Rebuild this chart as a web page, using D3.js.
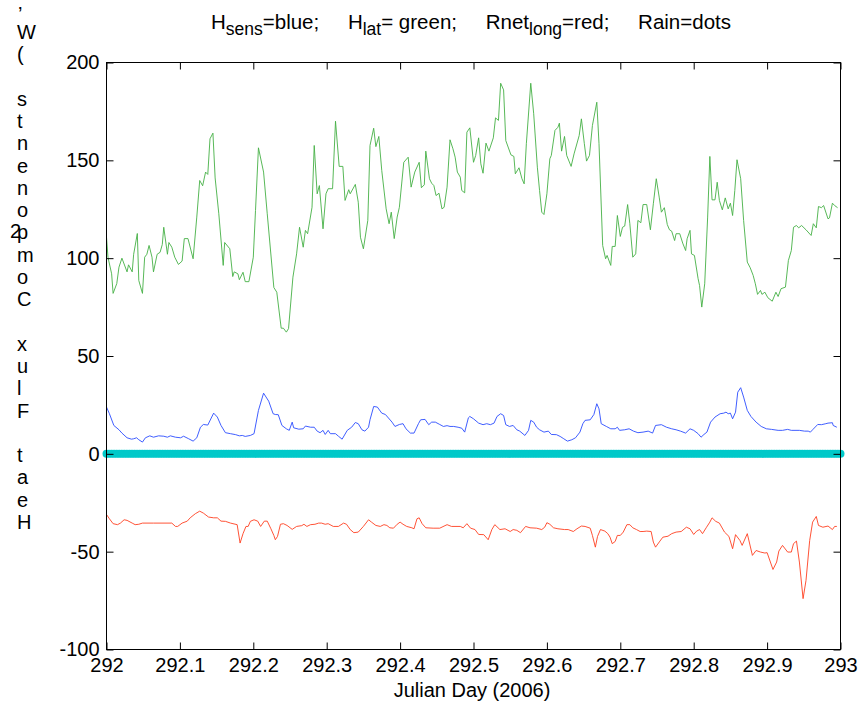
<!DOCTYPE html>
<html><head><meta charset="utf-8">
<script src="https://cdn.jsdelivr.net/npm/d3@7"></script>
<style>html,body{margin:0;padding:0;background:#fff}svg{display:block}text{font-family:"Liberation Sans",Arial,Helvetica,sans-serif;fill:#000}</style>
</head><body><svg id="chart" width="863" height="711"></svg>
<script>
// ---------- data ----------
const xTicks = [292,292.1,292.2,292.3,292.4,292.5,292.6,292.7,292.8,292.9,293];
const xTickLabels = ["292","292.1","292.2","292.3","292.4","292.5","292.6","292.7","292.8","292.9","293"];
const yTicks = [-100,-50,0,50,100,150,200];
const yTickLabels = ["-100","-50","0","50","100","150","200"];

// Hlat (green)
const hlatDay = [292.000,292.002,292.007,292.009,292.014,292.017,292.021,292.028,292.030,292.035,292.037,292.042,292.044,292.049,292.052,292.055,292.058,292.062,292.064,292.069,292.073,292.076,292.078,292.083,292.085,292.089,292.093,292.098,292.103,292.106,292.111,292.118,292.123,292.127,292.131,292.135,292.138,292.141,292.145,292.148,292.153,292.159,292.161,292.168,292.172,292.174,292.179,292.181,292.186,292.189,292.194,292.200,292.203,292.207,292.214,292.219,292.228,292.232,292.238,292.241,292.245,292.248,292.254,292.259,292.263,292.268,292.271,292.274,292.280,292.283,292.287,292.290,292.295,292.299,292.302,292.308,292.312,292.317,292.322,292.325,292.330,292.332,292.339,292.343,292.346,292.350,292.356,292.359,292.364,292.367,292.371,292.375,292.381,292.385,292.388,292.392,292.396,292.399,292.405,292.411,292.415,292.420,292.426,292.429,292.433,292.435,292.440,292.443,292.446,292.449,292.453,292.457,292.460,292.464,292.468,292.472,292.475,292.478,292.482,292.484,292.488,292.491,292.495,292.500,292.503,292.507,292.510,292.513,292.517,292.521,292.527,292.530,292.534,292.537,292.541,292.544,292.551,292.555,292.557,292.562,292.566,292.569,292.572,292.578,292.582,292.587,292.590,292.593,292.596,292.600,292.604,292.606,292.611,292.615,292.617,292.620,292.624,292.627,292.633,292.637,292.644,292.647,292.651,292.654,292.658,292.662,292.668,292.671,292.676,292.680,292.682,292.687,292.689,292.693,292.696,292.700,292.703,292.706,292.710,292.713,292.717,292.721,292.724,292.728,292.731,292.736,292.741,292.745,292.749,292.753,292.756,292.760,292.764,292.767,292.770,292.774,292.776,292.781,292.785,292.789,292.791,292.795,292.797,292.801,292.806,292.808,292.811,292.815,292.819,292.822,292.825,292.829,292.832,292.835,292.839,292.843,292.847,292.850,292.853,292.856,292.859,292.864,292.868,292.873,292.877,292.881,292.884,292.887,292.891,292.893,292.897,292.901,292.907,292.912,292.915,292.919,292.925,292.929,292.933,292.936,292.940,292.943,292.947,292.953,292.960,292.963,292.967,292.970,292.974,292.977,292.983,292.985,292.989,292.992,292.996];
const hlatVal = [110.7,100.5,92,82,87,95.4,100,93,96.6,93,102,112.6,88.6,82,100.5,102,106.5,100.5,93,102,103,107,115.8,102,108,105.6,100.5,96.8,98.5,110,110,99.7,121,139.7,137,144,142.8,161,163.9,141,122.7,96.3,108,104.8,90.6,93,92,89,92.8,88,88,100.5,124.4,156.4,144,122.7,85,82.6,64.2,64.2,62.2,64,90.3,102.2,115.8,105.6,114.2,112.5,126,157.6,132.9,137.1,115,132.9,135.5,135.5,170,146.9,146.9,129.5,135,132.9,137.7,128.6,110.7,104.8,119.3,157.6,166.4,157,162.2,144.8,125.2,117.6,123.5,110,121,126,149,151.6,136.3,144,149,136,137.5,154.7,140.6,138.3,137.1,132,133.2,125.2,126,136.3,160.5,155.9,151.6,144,141.4,134.6,133.4,164.4,166.6,149,152.5,161.5,148.2,143.4,158.8,154.7,161.5,171.7,170.4,189.4,186,160.1,152.8,152,143.1,146.2,140.6,138,158.5,189.4,173.8,146.5,134.6,123.5,122.3,132.9,150.8,152.5,165.3,166.9,169,154.7,162.2,152.5,146.9,153.3,162.7,171.2,158.5,149.6,152.5,167.8,179.7,158.5,106.5,99.7,101.4,96.3,106,106,121.8,111.1,115.8,116.4,127.4,117.6,100.5,102.2,119.3,118.1,127.4,127.4,114.5,127.8,140.6,131.2,123.5,125.8,117.2,114.5,113.8,109,112.5,112.5,107.7,103.9,109.9,114.2,102.2,101.4,89.5,86,75,86.9,121,152,129.8,129.8,138.8,129.5,124.7,130.8,125.2,128.1,121.8,134.6,150.3,140.6,119.3,98,95.1,91.2,86.9,81.5,83.5,81.5,82.6,79.8,78,82.6,80.4,84.4,85.2,98.8,103.9,115.8,116.7,115.5,116.7,114.5,111.6,117.6,115.5,126.4,125.8,126.9,120.1,120.6,128.1,126.9,125.8];

// Hsens (blue)
const hsensDay = [292.000,292.004,292.010,292.017,292.021,292.028,292.034,292.037,292.041,292.044,292.049,292.053,292.059,292.064,292.071,292.078,292.083,292.087,292.094,292.101,292.105,292.112,292.118,292.123,292.128,292.132,292.138,292.146,292.151,292.156,292.162,292.169,292.176,292.181,292.185,292.189,292.196,292.201,292.207,292.214,292.221,292.227,292.230,292.234,292.239,292.245,292.249,292.253,292.255,292.262,292.268,292.271,292.278,292.283,292.287,292.291,292.295,292.298,292.302,292.305,292.312,292.316,292.321,292.328,292.334,292.339,292.343,292.348,292.352,292.357,292.359,292.364,292.369,292.375,292.380,292.389,292.393,292.399,292.404,292.408,292.414,292.419,292.425,292.428,292.434,292.439,292.443,292.448,292.454,292.459,292.464,292.468,292.473,292.479,292.484,292.488,292.493,292.495,292.500,292.507,292.513,292.518,292.523,292.528,292.532,292.537,292.541,292.544,292.549,292.554,292.559,292.563,292.570,292.575,292.578,292.582,292.586,292.590,292.596,292.602,292.606,292.613,292.618,292.623,292.628,292.634,292.639,292.645,292.649,292.652,292.659,292.664,292.668,292.671,292.674,292.681,292.687,292.693,292.696,292.699,292.706,292.712,292.718,292.724,292.731,292.738,292.744,292.748,292.756,292.763,292.770,292.776,292.782,292.789,292.795,292.800,292.806,292.810,292.814,292.818,292.823,292.829,292.836,292.841,292.844,292.847,292.850,292.853,292.857,292.860,292.864,292.868,292.873,292.878,292.885,292.892,292.899,292.906,292.915,292.921,292.928,292.933,292.944,292.951,292.956,292.959,292.962,292.969,292.974,292.980,292.983,292.989,292.990,292.995];
const hsensVal = [23.9,20.5,14.5,12.3,10.6,8.2,7.5,7.7,8.2,7.2,6.0,8.2,9.2,8.5,9.2,9.0,8.5,9.2,8.5,8.2,9.0,7.7,6.5,8.2,13.6,15.0,14.7,20.8,18.8,14.5,10.8,10.3,9.8,9.2,9.4,8.9,9.4,10.3,22.2,31.0,26.9,20.5,20.1,20.0,14.5,12.8,12.0,16.2,13.3,12.6,12.8,14.2,13.6,13.6,11.6,10.8,12.0,9.9,12.0,10.3,10.3,9.0,7.5,12.0,13.6,16.0,15.4,12.3,11.6,13.6,17.4,24.2,23.9,20.8,20.1,16.2,14.0,15.0,15.4,12.8,10.6,10.6,15.4,17.4,17.6,14.9,16.2,16.2,15.0,14.0,14.4,14.0,14.0,13.6,13.1,11.1,18.4,19.1,17.9,15.7,14.9,15.4,14.9,15.7,19.1,20.5,19.6,14.9,14.0,14.5,12.3,11.6,9.4,12.0,17.1,16.2,13.6,12.3,11.1,11.6,9.9,9.8,8.9,7.7,6.5,7.2,8.2,11.1,15.4,17.1,17.4,20.1,25.6,23.0,15.4,14.0,12.8,12.8,13.6,12.0,12.3,12.8,11.6,10.8,11.1,11.6,10.6,14.5,14.9,13.6,12.8,12.3,11.6,10.6,12.8,12.0,10.3,8.5,9.9,11.1,16.2,18.8,20.5,20.8,21.3,20.5,20.8,17.9,21.3,31.5,33.8,29.0,22.2,19.1,16.2,14.0,12.8,12.5,12.0,12.0,12.5,12.0,12.0,11.6,11.6,11.1,12.3,15.0,14.9,15.4,15.7,15.9,14.5,13.6];

// Rnet_long (red)
const rnetDay = [292.000,292.004,292.009,292.015,292.019,292.024,292.028,292.035,292.039,292.044,292.049,292.064,292.089,292.094,292.097,292.103,292.110,292.114,292.121,292.127,292.132,292.139,292.146,292.151,292.156,292.162,292.169,292.178,292.182,292.186,292.190,292.193,292.196,292.201,292.206,292.210,292.215,292.219,292.224,292.228,292.230,292.233,292.237,292.241,292.246,292.253,292.259,292.266,292.269,292.273,292.278,292.284,292.289,292.293,292.298,292.302,292.309,292.316,292.323,292.327,292.332,292.337,292.343,292.350,292.357,292.361,292.367,292.373,292.378,292.382,292.386,292.391,292.396,292.400,292.404,292.409,292.416,292.419,292.423,292.426,292.430,292.435,292.445,292.454,292.464,292.470,292.482,292.486,292.491,292.496,292.502,292.507,292.514,292.520,292.525,292.529,292.536,292.543,292.550,292.554,292.559,292.564,292.571,292.577,292.586,292.593,292.597,292.600,292.604,292.609,292.615,292.624,292.629,292.636,292.641,292.647,292.652,292.659,292.662,292.666,292.669,292.673,292.679,292.683,292.686,292.689,292.693,292.696,292.700,292.704,292.709,292.713,292.717,292.722,292.727,292.731,292.736,292.742,292.745,292.748,292.754,292.758,292.765,292.770,292.776,292.783,292.790,292.795,292.800,292.804,292.808,292.812,292.817,292.822,292.825,292.830,292.835,292.842,292.848,292.853,292.857,292.863,292.866,292.873,292.880,292.885,292.891,292.897,292.900,292.908,292.913,292.916,292.921,292.928,292.933,292.936,292.940,292.944,292.949,292.953,292.958,292.962,292.967,292.970,292.976,292.983,292.989,292.992,292.995];
const rnetVal = [-31,-33.2,-35.7,-36.2,-35.4,-33.7,-34,-35.4,-36.2,-36,-35.4,-35.4,-35.4,-37.1,-37.1,-35.4,-34.4,-32.7,-30.6,-29.3,-30.3,-32.3,-32.7,-32.7,-34.4,-34.5,-35.4,-36.2,-45.6,-40.8,-37.1,-37.1,-34.5,-33.7,-34.4,-37.1,-34.4,-34.4,-38.3,-41.7,-43.9,-42.2,-36,-35.7,-36.6,-38.6,-37.1,-36.7,-36,-37.1,-36.2,-36,-35.4,-35.4,-36,-35.7,-37.1,-37.1,-35.4,-36,-38.7,-40.3,-40,-37.1,-33.7,-34.9,-36.6,-37.1,-36.2,-36.6,-37.8,-38,-36,-34.9,-36,-37.1,-37.8,-38.3,-33.2,-32.7,-35.7,-37.8,-38,-38,-36.2,-37.1,-37.1,-37.8,-35.7,-38,-38.7,-41.2,-41.3,-43.9,-38.7,-36.2,-38.7,-38.3,-39.7,-38.7,-39.1,-40.3,-37.1,-37.8,-38,-38.7,-37.5,-35.2,-36,-37.8,-38.3,-38.7,-38.7,-39.7,-38.3,-36.9,-37.1,-38,-41.7,-47.7,-42.2,-38.7,-39.5,-40.8,-42.6,-45.9,-44.8,-41.7,-41.7,-40,-36.2,-36.2,-37.8,-38.7,-39.7,-39.7,-39.5,-39.7,-45.1,-47.7,-44.6,-42.6,-42.1,-40.8,-40,-39.7,-37.5,-38.3,-41.2,-39.5,-38.7,-40.8,-37.8,-34.9,-32.7,-34.5,-35.4,-40,-42.2,-48.5,-41.3,-44.3,-46.8,-40.8,-51.9,-49.4,-50.2,-50.7,-50.5,-59.1,-55.3,-49.7,-46.8,-50.2,-50.2,-45.9,-44.6,-55.3,-74,-64.7,-44.3,-34.9,-32,-36.6,-37.5,-36.9,-38.7,-37.1,-37.1];

// Rain (dots) – 5-minute samples, all zero
const rainStepsPerDay = 288;
const rainVal = [
0,0,0,0,0,0,0,0,0,0,0,0,0,0,0,0,0,0,0,0,0,0,0,0,0,0,0,0,0,0,0,0,0,0,0,0,0,0,0,0,0,0,0,0,0,0,0,0,
0,0,0,0,0,0,0,0,0,0,0,0,0,0,0,0,0,0,0,0,0,0,0,0,0,0,0,0,0,0,0,0,0,0,0,0,0,0,0,0,0,0,0,0,0,0,0,0,
0,0,0,0,0,0,0,0,0,0,0,0,0,0,0,0,0,0,0,0,0,0,0,0,0,0,0,0,0,0,0,0,0,0,0,0,0,0,0,0,0,0,0,0,0,0,0,0,
0,0,0,0,0,0,0,0,0,0,0,0,0,0,0,0,0,0,0,0,0,0,0,0,0,0,0,0,0,0,0,0,0,0,0,0,0,0,0,0,0,0,0,0,0,0,0,0,
0,0,0,0,0,0,0,0,0,0,0,0,0,0,0,0,0,0,0,0,0,0,0,0,0,0,0,0,0,0,0,0,0,0,0,0,0,0,0,0,0,0,0,0,0,0,0,0,
0,0,0,0,0,0,0,0,0,0,0,0,0,0,0,0,0,0,0,0,0,0,0,0,0,0,0,0,0,0,0,0,0,0,0,0,0,0,0,0,0,0,0,0,0,0,0,0,
0];
const rainDay = rainVal.map((v,i) => 292 + i / rainStepsPerDay);

// ---------- drawing ----------
const svg = d3.select("#chart");
svg.append("rect").attr("width",863).attr("height",711).attr("fill","#fff");
const x = d3.scaleLinear().domain([292,293]).range([106.5,840.5]);
const y = d3.scaleLinear().domain([-100,200]).range([649.5,62.5]);
const FS = 20;

function line(days, vals){
  return d3.line().x((d,i)=>x(days[i])).y((d,i)=>y(vals[i]))(vals);
}
const plot = svg.append("g");
plot.append("path").attr("d", line(hlatDay,hlatVal)).attr("fill","none").attr("stroke","#45b045").attr("stroke-width",0.9);
plot.append("path").attr("d", line(hsensDay,hsensVal)).attr("fill","none").attr("stroke","#2a4cff").attr("stroke-width",0.9);
plot.append("path").attr("d", line(rnetDay,rnetVal)).attr("fill","none").attr("stroke","#ff4020").attr("stroke-width",0.9);
plot.selectAll("circle.rain").data(rainVal).join("circle").attr("class","rain")
  .attr("cx",(d,i)=>x(rainDay[i])).attr("cy",d=>y(d)).attr("r",4).attr("fill","#00c9c9");

// axes
const gL = svg.append("g").attr("transform","translate(106.5,0)")
  .call(d3.axisLeft(y).tickValues(yTicks).tickSize(-7).tickPadding(7).tickFormat((d,i)=>yTickLabels[i]));
const gR = svg.append("g").attr("transform","translate(840.5,0)")
  .call(d3.axisRight(y).tickValues(yTicks).tickSize(-7).tickFormat(""));
const gB = svg.append("g").attr("transform","translate(0,649.5)")
  .call(d3.axisBottom(x).tickValues(xTicks).tickSize(-7).tickPadding(8).tickFormat((d,i)=>xTickLabels[i]));
const gT = svg.append("g").attr("transform","translate(0,62.5)")
  .call(d3.axisTop(x).tickValues(xTicks).tickSize(-7).tickFormat(""));
[gL,gR,gB,gT].forEach(g=>{
  g.select(".domain").remove();
  g.selectAll("line").attr("stroke","#000").attr("stroke-width",1);
  g.selectAll("text").attr("font-size",FS).attr("font-family",'"Liberation Sans",Arial,sans-serif').attr("fill","#000");
});
svg.append("rect").attr("x",106.5).attr("y",62.5).attr("width",734).attr("height",587)
  .attr("fill","none").attr("stroke","#000").attr("stroke-width",1);

// x label
svg.append("text").attr("x",472).attr("y",697).attr("text-anchor","middle").attr("font-size",FS).text("Julian Day (2006)");

// title (left edge 211, right edge ~731 in the reference)
const TITLE_L = 211, TITLE_R = 731;
const title = svg.append("text").attr("x",TITLE_L).attr("y",29).attr("font-size",20.5)
  .attr("xml:space","preserve").style("white-space","pre");
const parts = [["H",0,0],["sens",1,0],["=blue;",0,0],["H",0,1],["lat",1,0],["= green;",0,0],["Rnet",0,1],["long",1,0],["=red;",0,0],["Rain=dots",0,1]];
let prevSub = 0;
const gapSpans = [];
parts.forEach(([t,s,gap])=>{
  const ts = title.append("tspan").text(t);
  const dy = (s - prevSub) * 6;
  if (dy) ts.attr("dy", dy);
  if (s) ts.attr("font-size", 17.5);
  if (gap) gapSpans.push(ts);
  prevSub = s;
});
const natural = title.node().getComputedTextLength();
const extra = Math.max(0, (TITLE_R - TITLE_L) - natural) / gapSpans.length;
gapSpans.forEach(ts => ts.attr("dx", extra));

// y label (stacked characters, bottom to top)
const yLabelChars = "Heat Flux Components (W".split("");
const yl = svg.append("g");
yLabelChars.forEach((c,i)=>{
  if (c === " ") return;
  yl.append("text").attr("x",17).attr("y",529 - i*22.27).attr("font-size",FS).text(c);
});
yl.append("text").attr("x",18).attr("y",21).attr("font-size",FS).text("\u2019");
yl.append("text").attr("x",10).attr("y",238).attr("font-size",FS).text("2");
</script>
</body></html>
